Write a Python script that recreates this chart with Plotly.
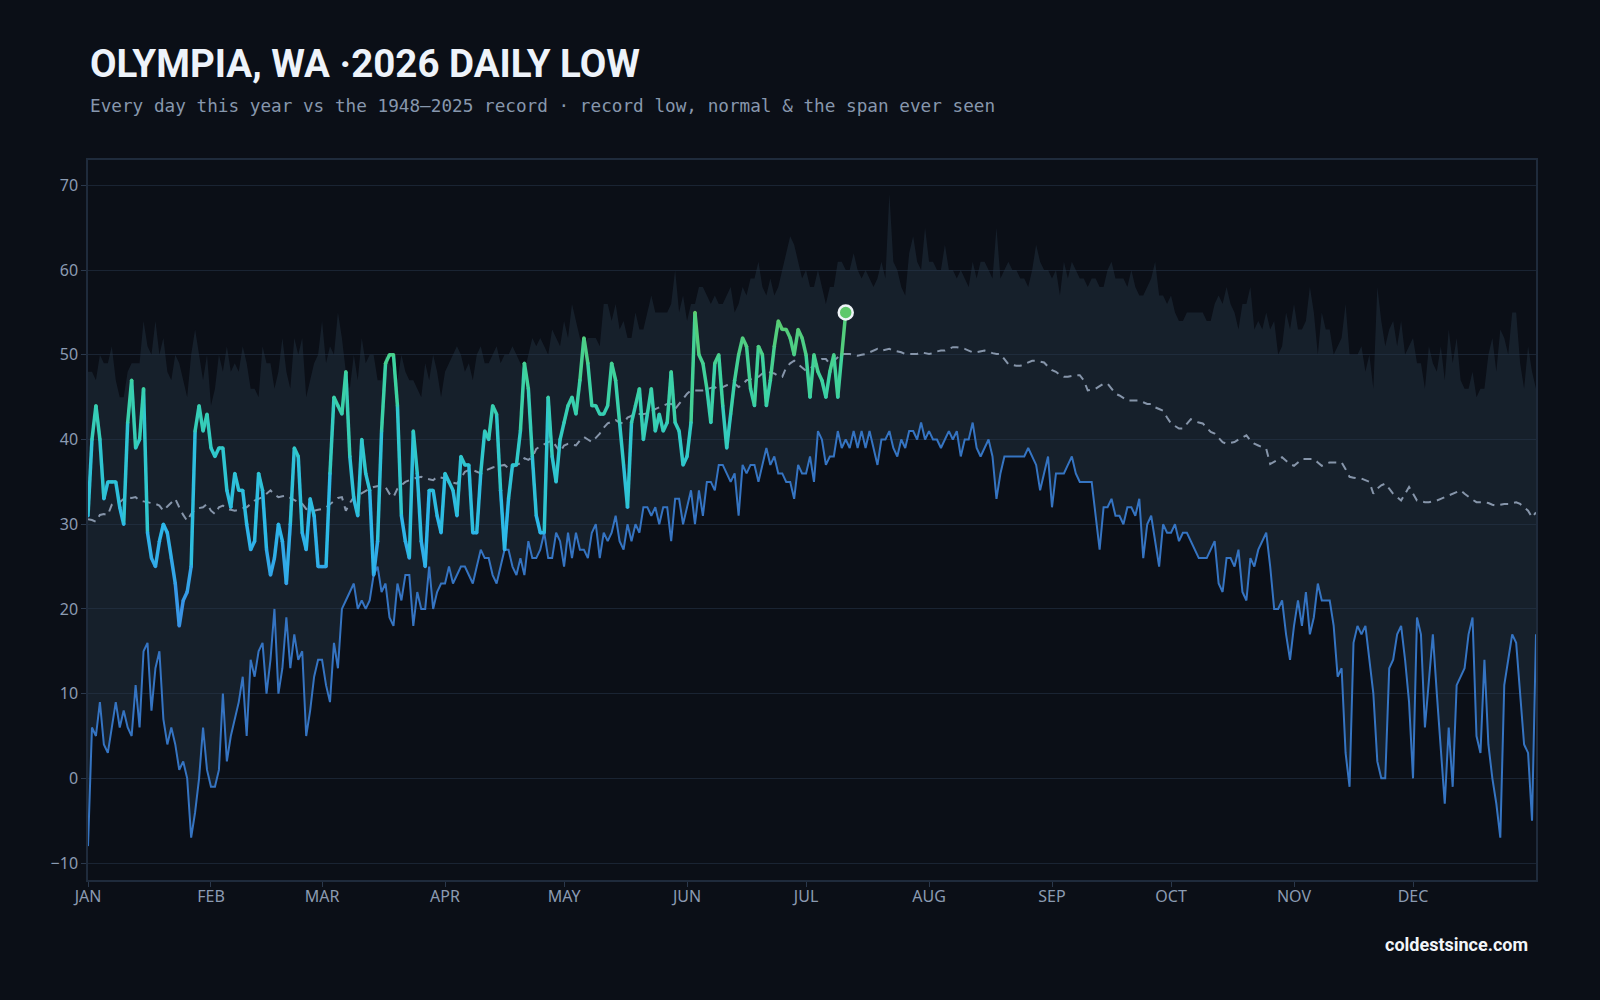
import plotly.graph_objects as go
from plotly.colors import sample_colorscale

# ---------------- data ----------------
MONTH_LABELS = ["JAN", "FEB", "MAR", "APR", "MAY", "JUN", "JUL", "AUG", "SEP", "OCT", "NOV", "DEC"]
MONTH_START_DAY = [0, 31, 59, 90, 120, 151, 181, 212, 243, 273, 304, 334]
Y_TICKS = [-10, 0, 10, 20, 30, 40, 50, 60, 70]

# record low of the daily low, 1948-2025 (°F), day-of-year index 0..365
RECORD_LOW = [
    -8, 6, 5, 9, 4, 3, 6, 9, 6, 8, 6, 5, 11, 6, 15, 16, 8, 13, 15, 7, 4,
    6, 4, 1, 2, 0, -7, -4, 0, 6, 1,
    -1, -1, 1, 10, 2, 5, 7, 9, 12, 5,
    14, 12, 15, 16, 10, 14, 20, 10, 13, 19,
    13, 17, 14, 15, 5, 8, 12, 14, 14, 11,
    9, 16, 13, 20, 21, 22, 23, 20, 21, 20,
    21, 24, 25, 22, 23, 19, 18, 23, 21, 24,
    24, 18, 22, 20, 20, 25, 20, 22, 23, 23,
    25, 23, 24, 25, 25, 24, 23, 25, 27, 26,
    26, 24, 23, 25, 27, 27, 25, 24, 26, 24,
    28, 26, 26,
    27, 29, 26, 26, 29, 28, 25, 29, 26, 29,
    27, 27, 26, 29, 30, 26, 29, 28, 29, 31,
    28, 27, 30, 28, 30, 29, 32, 32, 31, 32,
    30, 32, 32, 28,
    33, 33, 30, 32, 34, 30, 34, 31, 35, 35,
    34, 37, 37, 36, 35, 36, 31, 37, 36, 37,
    37, 35, 37, 39, 37, 38, 36, 36, 35, 35,
    33, 37, 36, 36, 38, 35, 41, 40, 37, 38,
    38, 41, 39, 40, 39, 41, 39, 41, 39, 41,
    39, 37, 40, 40, 41, 39, 38, 40, 39, 41,
    41, 40, 42, 40, 41, 40, 40, 39, 40, 41,
    40, 41, 38, 40, 40, 42, 39, 38, 39, 40,
    38, 33,
    36, 38, 38, 38, 38, 38, 38, 39, 38, 37,
    34, 36, 38, 32, 36, 36, 36, 37, 38, 36,
    35, 35, 35, 35, 31,
    27, 32, 32, 33, 31, 31, 30, 32, 32, 31,
    33, 26, 30, 31, 28, 25, 30, 29, 29, 30,
    28, 29, 29, 28, 27, 26, 26, 26, 27, 28,
    23, 22, 26, 26, 25, 27, 22, 21, 26, 25,
    27, 28, 29, 25, 20, 20, 21, 17, 14, 18,
    21, 18, 22, 17, 19, 23, 21, 21, 21, 18,
    12, 13, 3, -1, 16, 18, 17, 18, 14, 10,
    2, 0, 0, 13, 14, 17, 18, 14, 9, 0,
    19, 17, 6, 12, 17, 10, 3, -3, 6, -1,
    11, 12, 13, 17, 19, 5, 3, 14, 4, 0,
    -3, -7, 11, 14, 17, 16, 10, 4, 3, -5,
    17,
]

# highest daily low ever seen (top of the span), °F
RECORD_HIGH = [
    48, 48, 47, 50, 49, 49, 51, 47, 45, 45,
    48, 49, 49, 49, 54, 51, 50, 54, 50, 52,
    48, 47, 50, 49, 47, 45, 50, 53, 50, 47,
    50, 44, 46, 50, 48, 51, 48, 49, 48, 51,
    49, 46, 46, 45, 51, 49, 49, 46, 48, 52,
    48, 46, 52, 50, 52, 45, 47, 49, 50, 54,
    49, 51, 50, 55, 52, 48, 46, 50, 47, 52,
    49, 50, 50, 47, 47, 50, 49, 48, 47, 50,
    48, 47, 47, 46, 45, 49, 47, 50, 48, 45,
    48, 49, 50, 51, 50, 48, 49, 47, 50, 51,
    49, 49, 50, 51,
    49, 50, 50, 51, 50, 49, 48, 50, 52, 51,
    52, 51, 50, 53, 52, 51, 54, 52, 56, 54,
    52, 51, 52, 52, 52, 51, 56, 56, 54, 56,
    53, 54, 52, 52, 55, 53, 53, 55, 57, 55,
    55, 55, 55, 56, 60, 55, 57, 54, 56, 56,
    58, 58, 57, 56, 57, 56, 56, 57, 58, 55,
    56, 58, 57, 59, 59, 61, 58, 57, 59, 57,
    58, 60,
    62, 64, 63, 61, 59, 60, 58, 58, 60, 58,
    56, 58, 58, 61, 61, 60, 60, 62, 60, 59,
    60, 59, 58, 59, 61, 59, 69, 61, 60, 58,
    57, 62, 64, 61, 60, 65, 61, 61, 60, 60,
    63,
    60, 60, 59, 60, 59, 58, 61, 59, 61, 61,
    60, 59, 65, 59, 60, 61, 60, 60, 59, 59,
    58, 60, 63, 61, 60, 60, 59, 60, 57, 61,
    59, 61, 60, 59, 59, 58, 59, 59, 58, 58,
    60, 61, 59, 59, 59, 58, 60, 58, 57, 57,
    58, 59, 61, 57, 57, 56, 57, 55, 54, 54,
    55, 55, 55, 55, 55, 54, 54, 56, 57, 56,
    58, 56, 55, 53, 56, 56, 58, 53, 54, 53,
    55, 53, 54, 50, 51, 55, 53, 56, 53, 53,
    54, 58, 55, 50, 55, 53, 53, 50, 51, 52,
    56, 50, 50, 50, 51, 48, 50, 46, 58, 54,
    51, 53, 54, 51, 54, 50, 51, 52, 49, 49,
    46, 51, 49, 48, 51, 47, 53, 49, 52, 47,
    46, 46, 48, 45, 46, 46, 50, 52, 48, 53,
    52, 50, 55, 55, 49, 46, 51, 48, 46,
]

# normal daily low, °F
NORMAL = [
    30.6, 30.5, 30.3, 31.1, 31.2, 31.1, 32.3, 32.6, 32.6, 33.0,
    33.2, 33.1, 33.2, 32.8, 32.7, 32.6, 32.5, 32.4, 32.2, 31.6,
    32.1, 32.5, 33.0, 32.0, 31.1, 30.4, 31.2, 31.8, 31.9, 32.0,
    32.4, 31.6, 31.2, 32.0, 32.2, 31.8, 31.7, 31.6, 31.7, 31.9,
    32.0, 32.4, 32.8, 33.0, 33.2, 33.6, 34.0, 33.5, 33.2, 33.3,
    33.4, 33.1, 32.8, 32.6, 32.4, 31.8, 31.7, 31.6, 31.7, 31.8,
    32.0, 32.4, 32.8, 33.1, 33.2, 31.6, 32.5, 33.2, 33.4, 33.7,
    34.0, 34.2, 34.4, 34.5, 34.6, 34.4, 33.6, 33.2, 34.2, 34.6,
    35.0, 35.2, 35.4, 35.5, 35.6, 35.4, 35.3, 35.2, 35.6, 35.5,
    35.4, 35.1, 34.9, 34.8, 35.4, 36.2, 36.4, 36.4, 36.2, 36.0,
    36.3, 36.5, 36.7, 36.8, 36.9, 37.0, 36.6, 36.7, 37.0, 37.2,
    37.8, 37.6, 37.9, 38.9, 39.2, 39.5, 39.7, 39.9, 39.2, 38.5,
    39.3, 39.5, 39.4, 39.3, 39.9, 40.3, 40.0, 39.7, 40.2, 40.7,
    41.4, 41.9, 42.1, 42.3, 42.0, 41.9, 42.6, 42.8, 43.0, 43.0,
    43.0, 43.1, 43.3, 43.6, 43.8, 44.0, 44.2, 44.2, 43.6, 44.2,
    44.8, 45.4, 45.8, 45.8, 45.8, 45.8, 45.9, 46.1, 46.2, 45.8,
    46.2, 46.4, 46.5, 46.6, 46.2, 46.5, 47.0, 47.1, 47.3, 47.4,
    47.8, 48.1, 47.9, 47.8, 47.5, 47.4, 48.5, 49.0, 49.3, 48.9,
    48.5, 48.1, 48.4, 48.7, 48.9, 49.5, 49.5, 48.9, 49.3, 49.8,
    50.1, 50.1, 50.1, 50.0, 49.9, 50.0, 50.1, 50.3, 50.5, 50.7,
    50.5, 50.6, 50.7, 50.5, 50.4, 50.3, 50.1, 50.1, 50.1, 50.1,
    50.3, 50.2, 50.1, 50.2, 50.4, 50.5, 50.5, 50.7, 50.9, 50.9,
    50.8, 50.7, 50.5, 50.3, 50.3, 50.4, 50.5, 50.4, 50.2, 50.1,
    50.1, 49.5, 48.9, 48.8, 48.7, 48.7, 48.9, 49.1, 49.3, 49.3,
    49.2, 49.1, 48.6, 48.2, 48.0, 47.6, 47.4, 47.4, 47.5, 47.6,
    47.6, 47.0, 45.8, 45.9, 46.0, 46.3, 46.6, 46.6, 46.0, 45.4,
    45.2, 44.9, 44.6, 44.6, 44.6, 44.6, 44.4, 44.2, 44.2, 43.8,
    43.6, 43.4, 42.6, 41.9, 41.6, 41.3, 41.3, 41.8, 42.4, 42.2,
    42.0, 41.9, 41.4, 40.9, 40.7, 40.2, 39.7, 39.5, 39.6, 39.7,
    40.0, 40.3, 40.5, 39.9, 39.5, 39.3, 39.1, 38.9, 37.1, 37.4,
    37.7, 37.9, 37.5, 37.1, 36.9, 37.3, 37.7, 37.7, 37.7, 37.7,
    37.3, 36.9, 37.1, 37.3, 37.3, 37.3, 37.3, 36.5, 35.6, 35.5,
    35.4, 35.4, 35.2, 35.0, 33.6, 34.2, 34.6, 34.8, 34.2, 33.6,
    33.2, 32.8, 33.6, 34.4, 33.6, 32.8, 32.7, 32.6, 32.6, 32.7,
    32.8, 33.0, 33.2, 33.4, 33.6, 33.8, 34.0, 33.6, 33.2, 32.9,
    32.6, 32.6, 32.6, 32.5, 32.3, 32.2, 32.3, 32.4, 32.4, 32.5,
    32.6, 32.4, 32.0, 31.6, 30.8, 31.4,
]

# 2026 observed daily lows, °F (Jan 1 .. Jul 11)
LOWS_2026 = [
    31, 40, 44, 40, 33, 35, 35, 35, 32, 30,
    42, 47, 39, 40, 46, 29, 26, 25, 28, 30,
    29, 26, 23, 18, 21, 22, 25, 41, 44, 41,
    43, 39, 38, 39, 39, 34, 32, 36, 34, 34,
    30, 27, 28, 36, 34, 27, 24, 26, 30, 28,
    23, 30, 39, 38, 29, 27, 33, 31, 25, 25,
    25, 36, 45, 44, 43, 48, 38, 33, 31, 40,
    36, 34, 24, 28, 41, 49, 50, 50, 44, 31,
    28, 26, 41, 36, 28, 25, 34, 34, 31, 29,
    36, 35, 34, 31, 38, 37, 37, 29, 29, 36,
    41, 40, 44, 43, 34, 27, 33, 37, 37, 41,
    49, 46, 38, 31, 29, 29, 45, 38, 35, 40,
    42, 44, 45, 43, 47, 52, 49, 44, 44, 43,
    43, 44, 49, 47, 42, 37, 32, 42, 44, 46,
    40, 43, 46, 41, 43, 41, 42, 48, 42, 41,
    37, 38, 42, 55, 50, 49, 46, 42, 49, 50,
    44, 39, 43, 47, 50, 52, 51, 46, 44, 51,
    50, 44, 47, 51, 54, 53, 53, 52, 50, 53,
    52, 50, 45, 50, 48, 47, 45, 48, 50, 45,
    50, 55,
]

DAYS = list(range(len(RECORD_LOW)))
DAYS_2026 = list(range(len(LOWS_2026)))
assert len(RECORD_LOW) == 366 and len(RECORD_HIGH) == 366 and len(NORMAL) == 366, (
    len(RECORD_LOW), len(RECORD_HIGH), len(NORMAL))

# ---------------- styling ----------------
BG = "#0b0f17"
GRID = "#1a2433"
BORDER = "#1f2b3c"
TICK_COL = "#8b9bb2"
LINE_SCALE = [[0.0, "#3b8fe6"], [0.32, "#2db8ea"], [0.55, "#30c8cc"],
              [0.78, "#3dd3a0"], [1.0, "#5ecb6b"]]
VMIN, VMAX = 18, 55

fig = go.Figure()

# span ever seen (band)
fig.add_trace(go.Scatter(x=DAYS, y=RECORD_LOW, mode="lines", line=dict(width=0),
                         hoverinfo="skip", showlegend=False))
fig.add_trace(go.Scatter(x=DAYS, y=RECORD_HIGH, mode="lines", line=dict(width=0),
                         fill="tonexty", fillcolor="rgba(41,57,76,0.40)",
                         hoverinfo="skip", showlegend=False))

# record low line
fig.add_trace(go.Scatter(x=DAYS, y=RECORD_LOW, mode="lines",
                         line=dict(color="#3574c2", width=2),
                         name="Record low", showlegend=False))

# normal
fig.add_trace(go.Scatter(x=DAYS, y=NORMAL, mode="lines",
                         line=dict(color="#8695aa", width=2, dash="8px,6px"),
                         name="Normal", showlegend=False))

# 2026 line, coloured by value (segments grouped into colour bins)
NB = 48
bins = {}
for i in range(len(LOWS_2026) - 1):
    mid = (LOWS_2026[i] + LOWS_2026[i + 1]) / 2
    t = (mid - VMIN) / (VMAX - VMIN)
    b = min(NB - 1, max(0, int(t * NB)))
    xs, ys = bins.setdefault(b, ([], []))
    xs += [DAYS_2026[i], DAYS_2026[i + 1], None]
    ys += [LOWS_2026[i], LOWS_2026[i + 1], None]
for b in sorted(bins):
    xs, ys = bins[b]
    col = sample_colorscale(LINE_SCALE, (b + 0.5) / NB)[0]
    fig.add_trace(go.Scatter(x=xs, y=ys, mode="lines",
                             line=dict(color=col, width=3.5),
                             hoverinfo="skip", showlegend=False))
# joints
fig.add_trace(go.Scatter(x=DAYS_2026, y=LOWS_2026, mode="markers",
                         marker=dict(size=3.4, color=LOWS_2026, colorscale=LINE_SCALE,
                                     cmin=VMIN, cmax=VMAX, line=dict(width=0)),
                         hoverinfo="skip", showlegend=False))
# latest day marker
fig.add_trace(go.Scatter(x=[DAYS_2026[-1]], y=[LOWS_2026[-1]], mode="markers",
                         marker=dict(size=14, color="#5ec86a",
                                     line=dict(color="#eef3f7", width=2.5)),
                         showlegend=False))

fig.update_layout(
    width=1600, height=1000,
    paper_bgcolor=BG, plot_bgcolor=BG,
    margin=dict(l=88, r=64, t=160, b=120),
    font=dict(family="Noto Sans", color=TICK_COL),
    showlegend=False,
)
fig.update_xaxes(
    range=[0, 365], tickmode="array", tickvals=MONTH_START_DAY, ticktext=MONTH_LABELS,
    showgrid=False, zeroline=False, showline=True, mirror=True,
    linecolor=BORDER, linewidth=1.5, ticks="outside", ticklen=5, tickcolor="#2a384c",
    ticklabelstandoff=-4,
    tickfont=dict(family="Noto Sans", size=16, color=TICK_COL),
)
fig.update_yaxes(
    range=[-12, 73], tickmode="array", tickvals=Y_TICKS,
    showgrid=True, gridcolor=GRID, gridwidth=1, zeroline=False,
    showline=True, mirror=True, linecolor=BORDER, linewidth=1.5,
    ticks="outside", ticklen=5, tickcolor="#2a384c",
    tickfont=dict(family="Noto Sans", size=16, color=TICK_COL),
)

fig.add_annotation(xref="paper", yref="paper", x=0, y=1 + 97 / 720,
                   xanchor="left", yanchor="middle", showarrow=False,
                   text="<b>OLYMPIA, WA ·2026 DAILY LOW</b>",
                   font=dict(family="Roboto", size=38.5, color="#eef3fa"))
fig.add_annotation(xref="paper", yref="paper", x=0, y=1 + 54 / 720,
                   xanchor="left", yanchor="middle", showarrow=False,
                   text="Every day this year vs the 1948–2025 record · record low, normal &amp; the span ever seen",
                   font=dict(family="DejaVu Sans Mono", size=17.7, color="#8797ad"))
fig.add_annotation(xref="paper", yref="paper", x=(1529.5 - 88) / 1448, y=-64.4 / 720,
                   xanchor="right", yanchor="middle", showarrow=False,
                   text="<b>coldestsince.com</b>",
                   font=dict(family="Roboto", size=18, color="#f2f5f9"))

fig.write_html("out.html")
